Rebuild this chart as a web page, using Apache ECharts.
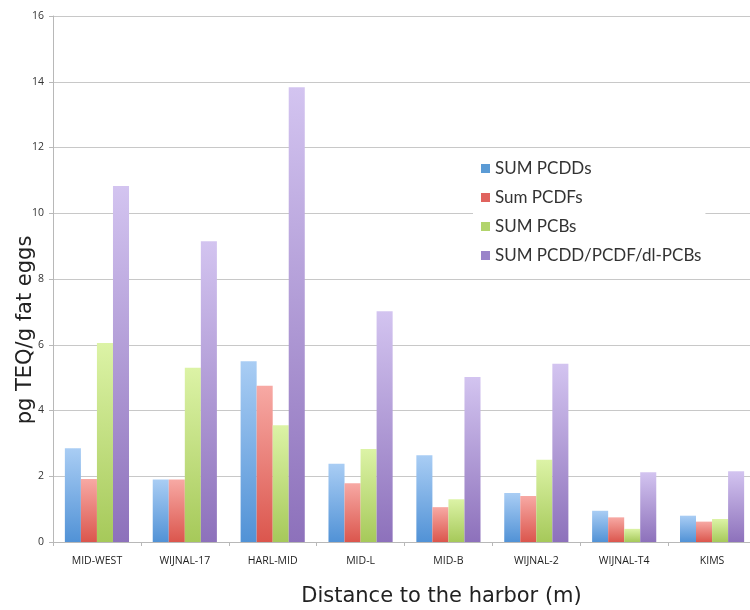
<!DOCTYPE html>
<html>
<head>
<meta charset="utf-8">
<script src="https://cdn.jsdelivr.net/npm/echarts@6/dist/echarts.min.js"></script>
<style>html,body{margin:0;padding:0;background:#fff}#c{width:750px;height:610px}</style>
</head>
<body>
<div id="c"></div>
<script>
const categories = ['MID-WEST','WIJNAL-17','HARL-MID','MID-L','MID-B','WIJNAL-2','WIJNAL-T4','KIMS'];
const seriesNames = ['SUM PCDDs','Sum PCDFs','SUM PCBs','SUM PCDD/PCDF/dl-PCBs'];
const sumPCDDs = [2.85, 1.9, 5.5, 2.38, 2.64, 1.49, 0.95, 0.8];
const sumPCDFs = [1.92, 1.9, 4.75, 1.79, 1.06, 1.4, 0.75, 0.62];
const sumPCBs = [6.05, 5.3, 3.55, 2.83, 1.3, 2.5, 0.4, 0.7];
const sumTotal = [10.83, 9.15, 13.83, 7.02, 5.02, 5.42, 2.12, 2.15];
const yTicks = [0, 2, 4, 6, 8, 10, 12, 14, 16];

const gradTop = ['#a9cdf4', '#f7a9a4', '#dcf3a6', '#d3c4f0'];
const gradBot = ['#5192d6', '#db564d', '#a6c95a', '#8d71bb'];
const solid = ['#5b9bd5', '#e0635e', '#b2d46c', '#9a84c9'];
const values = [sumPCDDs, sumPCDFs, sumPCBs, sumTotal];

const chart = echarts.init(document.getElementById('c'));
chart.setOption({
  animation: false,
  backgroundColor: '#fff',
  grid: { left: 53, top: 16, width: 703, height: 526, containLabel: false, outerBoundsMode: 'none' },
  legend: {
    orient: 'vertical',
    left: 473, top: 152,
    padding: [8, 4, 10, 8],
    backgroundColor: '#fff',
    itemWidth: 9, itemHeight: 9, itemGap: 12,
    icon: 'rect',
    textStyle: { fontFamily: 'Lato', fontSize: 17, color: '#333' },
    data: seriesNames.map((n, i) => ({ name: n, itemStyle: { color: solid[i] } }))
  },
  xAxis: {
    type: 'category',
    data: categories,
    axisLine: { lineStyle: { color: '#b8b8b8', width: 1 } },
    axisTick: { show: true, length: 4, lineStyle: { color: '#b8b8b8' } },
    axisLabel: { fontFamily: 'Open Sans', fontSize: 10.5, color: '#222', margin: 14 },
    name: 'Distance to the harbor (m)',
    nameLocation: 'middle',
    nameGap: 44,
    nameMoveOverlap: false,
    nameTextStyle: { fontFamily: 'DejaVu Sans', fontSize: 21, color: '#222', padding: [0, 0, 0, 74] }
  },
  yAxis: {
    type: 'value',
    min: 0, max: 16, interval: 2,
    axisLine: { show: true, lineStyle: { color: '#b8b8b8' } },
    axisTick: { show: true, length: 4, lineStyle: { color: '#b8b8b8' } },
    splitLine: { lineStyle: { color: '#c8c8c8' } },
    axisLabel: { fontFamily: 'Open Sans', fontSize: 10.5, color: '#333', margin: 9,
      formatter: v => yTicks.includes(v) ? String(v) : '' },
    name: 'pg TEQ/g fat eggs',
    nameLocation: 'middle',
    nameRotate: 90,
    nameGap: 17,
    nameMoveOverlap: false,
    nameTextStyle: { fontFamily: 'DejaVu Sans', fontSize: 21, color: '#222', padding: [0, 0, 0, -102] }
  },
  series: seriesNames.map((n, i) => ({
    name: n,
    type: 'bar',
    data: values[i],
    barGap: '0%',
    barCategoryGap: '27%',
    itemStyle: {
      color: { type: 'linear', x: 0, y: 0, x2: 0, y2: 1,
        colorStops: [{ offset: 0, color: gradTop[i] }, { offset: 1, color: gradBot[i] }] }
    }
  }))
});
</script>
</body>
</html>
